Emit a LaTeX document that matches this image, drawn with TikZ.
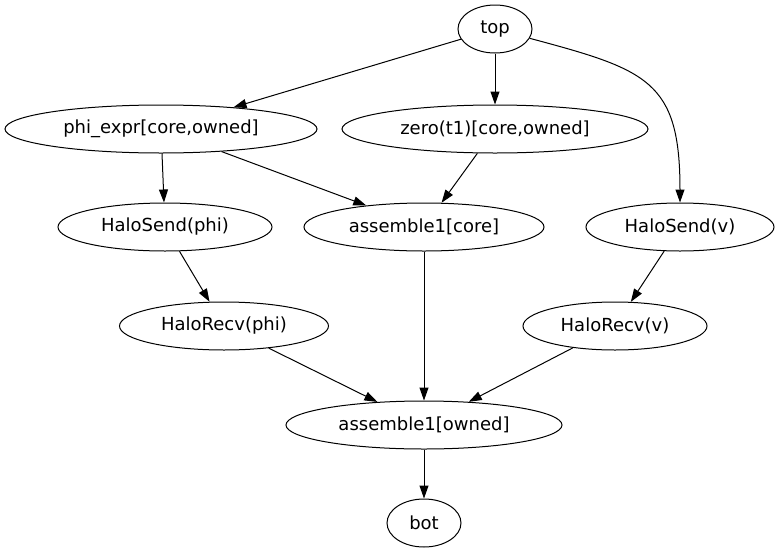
\documentclass[tikz,border=0pt]{standalone}
\usepackage{fontspec}
\setmainfont{DejaVu Sans}
\usetikzlibrary{shapes.geometric,arrows.meta}
\newcommand{\nlab}[1]{\makebox[0pt]{#1}}
\tikzset{
	op/.style={ellipse,draw=black,line width=1pt,inner sep=0pt,minimum height=48pt,
		font=\fontsize{18}{22}\selectfont},
	dep/.style={draw=black,line width=1pt,-{Triangle[length=13pt,width=9pt]}},
}

\begin{document}
\begin{tikzpicture}[x=1pt,y=-1pt]
	\useasboundingbox (0,0) rectangle (780,555);
	\node[op,minimum width=74pt] (top) at (495,29) {\nlab{top}};
	\node[op,minimum width=312pt] (phi) at (161,129) {\nlab{phi\_expr[core,owned]}};
	\node[op,minimum width=306pt] (zero) at (495,129) {\nlab{zero(t1)[core,owned]}};
	\node[op,minimum width=214pt] (hsp) at (165,227) {\nlab{HaloSend(phi)}};
	\node[op,minimum width=240pt] (acore) at (424,227) {\nlab{assemble1[core]}};
	\node[op,minimum width=188pt] (hsv) at (680,227) {\nlab{HaloSend(v)}};
	\node[op,minimum width=209pt] (hrp) at (224,326) {\nlab{HaloRecv(phi)}};
	\node[op,minimum width=184pt] (hrv) at (615,326) {\nlab{HaloRecv(v)}};
	\node[op,minimum width=276pt] (aown) at (424,425) {\nlab{assemble1[owned]}};
	\node[op,minimum width=74pt] (bot) at (424,523) {\nlab{bot}};
	\foreach \a/\b in {top/phi,top/zero,phi/hsp,phi/acore,zero/acore,hsp/hrp,
		hsv/hrv,acore/aown,hrp/aown,hrv/aown,aown/bot}
	\draw[dep] (\a)--(\b);
	\draw[dep] (top) to[out=-15,in=90,looseness=1.4] (hsv);
\end{tikzpicture}
\end{document}
